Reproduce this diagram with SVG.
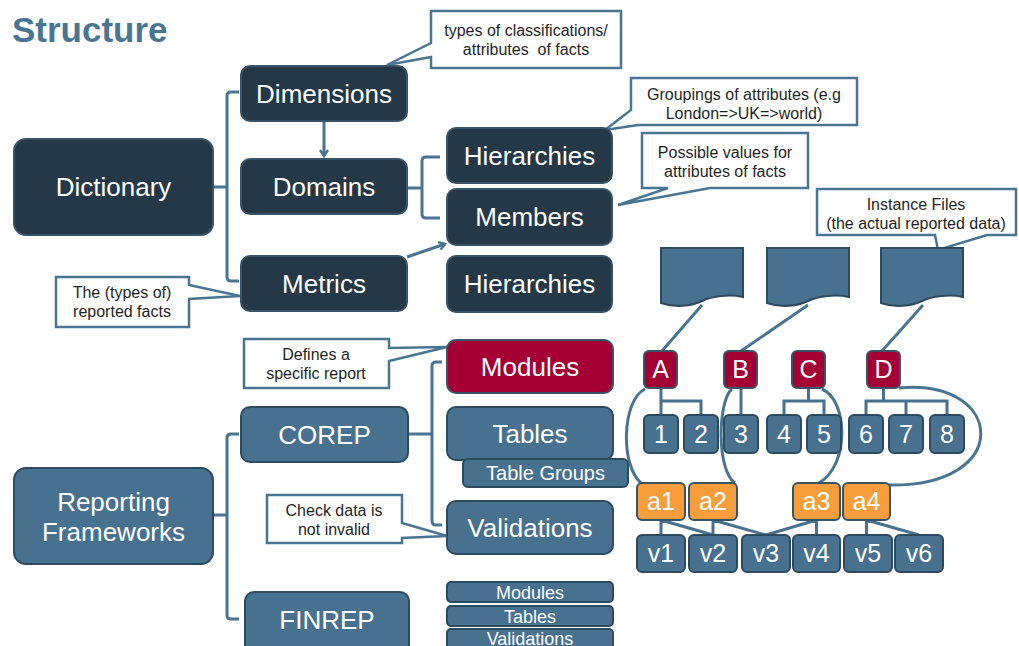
<svg xmlns="http://www.w3.org/2000/svg" width="1019" height="646" viewBox="0 0 1019 646">
<style>
.dk{fill:#243847;stroke:#3a5467;stroke-width:2}
.st{fill:#48708f;stroke:#2e4a5e;stroke-width:2}
.rd{fill:#a50034;stroke:#3a5467;stroke-width:2}
.or{fill:#f79d3c;stroke:#3a5467;stroke-width:2}
.t{font-family:"Liberation Sans",Arial,sans-serif;fill:#fff;text-anchor:middle;font-size:26px}
.ts{font-size:25px}
.tm{font-size:18px}
.tg{font-size:20px}
.co{fill:#fff;stroke:#4a7592;stroke-width:2.5;stroke-linejoin:miter}
.ct{font-family:"Liberation Sans",Arial,sans-serif;fill:#1f1f1f;text-anchor:middle;font-size:16px}
.ln{stroke:#4a7592;stroke-width:3;fill:none}
.tr{stroke:#48708f;stroke-width:3;fill:none}
</style>
<defs>
<marker id="chev" markerWidth="10" markerHeight="10" refX="7" refY="5" orient="auto" markerUnits="userSpaceOnUse">
<path d="M1,1 L7,5 L1,9" fill="none" stroke="#4a7592" stroke-width="2.5"/>
</marker>
</defs>
<rect width="1019" height="646" fill="#fff"/>
<text x="12" y="42" font-family="'Liberation Sans',Arial,sans-serif" font-weight="bold" font-size="35" fill="#4a7592">Structure</text>

<g id="connectors">
<path class="ln" d="M213,187 H227 M239,92 H231 Q227,92 227,96 V277 Q227,281 231,281 H239"/>
<path class="ln" d="M324,121 V156" marker-end="url(#chev)"/>
<path class="ln" d="M407,188 H422 M440,157 H426 Q422,157 422,161 V214 Q422,218 426,218 H440"/>
<path class="ln" d="M407,257 L445,244" marker-end="url(#chev)"/>
<path class="ln" d="M213,515 H227 M239,434 H231 Q227,434 227,438 V615 Q227,619 231,619 H239"/>
<path class="ln" d="M408,434 H432 M442,362 H436 Q432,362 432,366 V521 Q432,525 436,525 H442"/>
<path class="ln" d="M702,305 L662,351 M808,305 L741,351 M923,305 L882,351"/>
<path class="tr" d="M661,388 V415 M661,401 H701 V415 M741,388 V415 M808.5,388 V401 M784,415 V401 H824 V415 M883.5,388 V401 M866,415 V401 H947 V415 M906,401 V415"/>
<path class="tr" d="M661,520 V535 M661,520 L713,535 M713,520 V535 M713,520 L766,535 M816.5,520 V535 M816.5,520 L766,535 M866.5,520 V535 M866.5,520 L919,535"/>
<path class="ln" stroke-width="2.5" d="M645,389 C622,400 620,465 641,483 M732,389 C718,400 716,470 735,483 M822,389 C848,400 850,465 819,483 M899,388 C1005,378 1015,488 887,485"/>
</g>

<g id="callout-types"><path class="co" d="M431,11 H621 V68 H431 V57 L387,65 L431,43 Z"/><text class="ct" x="526" y="36">types of classifications/</text><text class="ct" x="526" y="55" xml:space="preserve">attributes  of facts</text></g>
<g id="callout-groupings"><path class="co" d="M631,78 H857 V125 H638 L605,130 L631,110 Z"/><text class="ct" x="744" y="100">Groupings of attributes (e.g</text><text class="ct" x="744" y="119">London=&gt;UK=&gt;world)</text></g>
<g id="callout-possible"><path class="co" d="M642,133 H808 V188 H710 L618,205 L668,188 H642 Z"/><text class="ct" x="725" y="158">Possible values for</text><text class="ct" x="725" y="177">attributes of facts</text></g>
<g id="callout-instance"><path class="co" d="M817,189 H1016 V235 H987 L938,250 L935,235 H817 Z"/><text class="ct" x="916" y="210">Instance Files</text><text class="ct" x="916" y="229">(the actual reported data)</text></g>
<g id="callout-facts"><path class="co" d="M56,277 H189 V285 L240,296 L189,299 V327 H56 Z"/><text class="ct" x="122" y="298">The (types of)</text><text class="ct" x="122" y="317">reported facts</text></g>
<g id="callout-defines"><path class="co" d="M244,339 H389 V348 L447,347 L389,361 V388 H244 Z"/><text class="ct" x="316" y="360">Defines a</text><text class="ct" x="316" y="379">specific report</text></g>
<g id="callout-check"><path class="co" d="M267,495 H402 V523 L447,536 L402,538 V543 H267 Z"/><text class="ct" x="334" y="516">Check data is</text><text class="ct" x="334" y="535">not invalid</text></g>

<g id="dictionary"><rect class="dk" x="14" y="139" width="199" height="96" rx="12"/><text class="t" x="113.5" y="196">Dictionary</text></g>
<g id="dimensions"><rect class="dk" x="241" y="66" width="166" height="55" rx="9"/><text class="t" x="324" y="103">Dimensions</text></g>
<g id="domains"><rect class="dk" x="241" y="159" width="166" height="55" rx="9"/><text class="t" x="324" y="196">Domains</text></g>
<g id="metrics"><rect class="dk" x="241" y="256" width="166" height="55" rx="9"/><text class="t" x="324" y="293">Metrics</text></g>
<g id="hierarchies1"><rect class="dk" x="447" y="128" width="165" height="55" rx="9"/><text class="t" x="529.5" y="165">Hierarchies</text></g>
<g id="members"><rect class="dk" x="447" y="189" width="165" height="56" rx="9"/><text class="t" x="529.5" y="226">Members</text></g>
<g id="hierarchies2"><rect class="dk" x="447" y="256" width="165" height="56" rx="9"/><text class="t" x="529.5" y="293">Hierarchies</text></g>

<g id="docs">
<path class="st" d="M661,248 H743 V297 C730,294 712,296 702,301 C692,306 675,308 661,303 Z"/>
<path class="st" d="M767,248 H849 V297 C836,294 818,296 808,301 C798,306 781,308 767,303 Z"/>
<path class="st" d="M881,248 H963 V297 C950,294 932,296 922,301 C912,306 895,308 881,303 Z"/>
</g>

<g id="modules"><rect class="rd" x="447" y="340" width="166" height="53" rx="9"/><text class="t" x="530" y="375.5">Modules</text></g>
<g id="tables"><rect class="st" x="447" y="407" width="166" height="53" rx="9"/><text class="t" x="530" y="442.5">Tables</text></g>
<g id="table-groups"><rect class="st" x="463" y="459" width="165" height="28" rx="5"/><text class="t tg" x="545.5" y="480">Table Groups</text></g>
<g id="validations"><rect class="st" x="447" y="501" width="166" height="53" rx="9"/><text class="t" x="530" y="536.5">Validations</text></g>
<g id="mini-modules"><rect class="st" x="447" y="582" width="166" height="20" rx="4"/><text class="t tm" x="530" y="598.5">Modules</text></g>
<g id="mini-tables"><rect class="st" x="447" y="606" width="166" height="20" rx="4"/><text class="t tm" x="530" y="622.5">Tables</text></g>
<g id="mini-validations"><rect class="st" x="447" y="629" width="166" height="22" rx="4"/><text class="t tm" x="530" y="645">Validations</text></g>
<g id="corep"><rect class="st" x="241" y="407" width="167" height="55" rx="9"/><text class="t" x="324.5" y="443.5">COREP</text></g>
<g id="reporting-frameworks"><rect class="st" x="14" y="468" width="199" height="96" rx="12"/><text class="t" x="113.5" y="511">Reporting</text><text class="t" x="113.5" y="541">Frameworks</text></g>
<g id="finrep"><rect class="st" x="245" y="592" width="164" height="62" rx="9"/><text class="t" x="327" y="629">FINREP</text></g>

<g id="mod-A"><rect class="rd" x="644" y="351" width="33" height="37" rx="5"/><text class="t ts" x="660.5" y="378">A</text></g>
<g id="mod-B"><rect class="rd" x="724" y="351" width="33" height="37" rx="5"/><text class="t ts" x="740.5" y="378">B</text></g>
<g id="mod-C"><rect class="rd" x="792" y="351" width="33" height="37" rx="5"/><text class="t ts" x="808.5" y="378">C</text></g>
<g id="mod-D"><rect class="rd" x="867" y="351" width="33" height="37" rx="5"/><text class="t ts" x="883.5" y="378">D</text></g>

<g id="tbl-1"><rect class="st" x="644" y="415" width="34" height="38" rx="5"/><text class="t ts" x="661" y="443">1</text></g>
<g id="tbl-2"><rect class="st" x="684" y="415" width="34" height="38" rx="5"/><text class="t ts" x="701" y="443">2</text></g>
<g id="tbl-3"><rect class="st" x="724" y="415" width="34" height="38" rx="5"/><text class="t ts" x="741" y="443">3</text></g>
<g id="tbl-4"><rect class="st" x="767" y="415" width="34" height="38" rx="5"/><text class="t ts" x="784" y="443">4</text></g>
<g id="tbl-5"><rect class="st" x="807" y="415" width="34" height="38" rx="5"/><text class="t ts" x="824" y="443">5</text></g>
<g id="tbl-6"><rect class="st" x="849" y="415" width="34" height="38" rx="5"/><text class="t ts" x="866" y="443">6</text></g>
<g id="tbl-7"><rect class="st" x="889" y="415" width="34" height="38" rx="5"/><text class="t ts" x="906" y="443">7</text></g>
<g id="tbl-8"><rect class="st" x="930" y="415" width="34" height="38" rx="5"/><text class="t ts" x="947" y="443">8</text></g>

<g id="asr-a1"><rect class="or" x="637" y="483" width="48" height="37" rx="5"/><text class="t ts" x="661" y="510">a1</text></g>
<g id="asr-a2"><rect class="or" x="689" y="483" width="48" height="37" rx="5"/><text class="t ts" x="713" y="510">a2</text></g>
<g id="asr-a3"><rect class="or" x="793" y="483" width="47" height="37" rx="5"/><text class="t ts" x="816.5" y="510">a3</text></g>
<g id="asr-a4"><rect class="or" x="843" y="483" width="47" height="37" rx="5"/><text class="t ts" x="866.5" y="510">a4</text></g>

<g id="val-v1"><rect class="st" x="637" y="535" width="48" height="37" rx="5"/><text class="t ts" x="661" y="562">v1</text></g>
<g id="val-v2"><rect class="st" x="689" y="535" width="48" height="37" rx="5"/><text class="t ts" x="713" y="562">v2</text></g>
<g id="val-v3"><rect class="st" x="742" y="535" width="48" height="37" rx="5"/><text class="t ts" x="766" y="562">v3</text></g>
<g id="val-v4"><rect class="st" x="793" y="535" width="47" height="37" rx="5"/><text class="t ts" x="816.5" y="562">v4</text></g>
<g id="val-v5"><rect class="st" x="844" y="535" width="48" height="37" rx="5"/><text class="t ts" x="868" y="562">v5</text></g>
<g id="val-v6"><rect class="st" x="895" y="535" width="48" height="37" rx="5"/><text class="t ts" x="919" y="562">v6</text></g>
</svg>
